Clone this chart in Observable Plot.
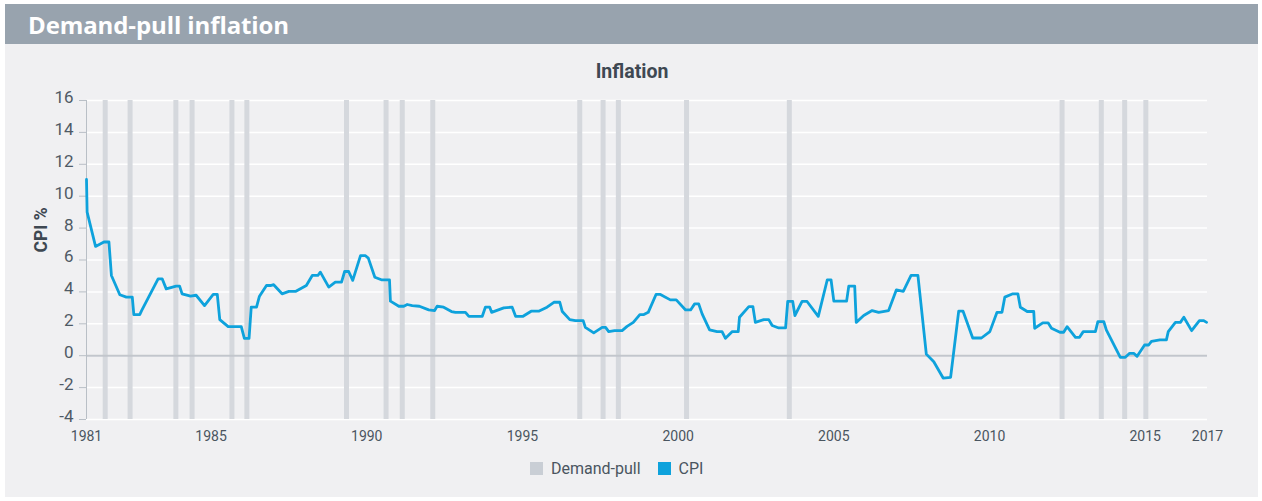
<!DOCTYPE html>
<html>
<head>
<meta charset="utf-8">
<script src="https://cdn.jsdelivr.net/npm/d3@7"></script>
<script src="https://cdn.jsdelivr.net/npm/@observablehq/plot@0.6"></script>
<style>
  html, body { margin: 0; padding: 0; background: #ffffff; }
  body { width: 1262px; height: 501px; position: relative; overflow: hidden; font-family: Roboto, "Open Sans", sans-serif; }
  #panel { position: absolute; left: 5px; top: 4px; width: 1253px; height: 493px; background: #f0f0f2; }
  #band { position: absolute; left: 5px; top: 4px; width: 1253px; height: 40px; background: #98a3ae; }
  #band span { position: absolute; left: 23px; top: 4px; font-family: "Open Sans", Roboto, sans-serif; font-weight: 700; font-size: 24px; color: #ffffff; letter-spacing: -0.1px; }
  #ctitle { position: absolute; left: 0; width: 1264px; top: 60px; text-align: center; font-weight: 700; font-size: 19.5px; color: #3e4852; }
  #ylab { position: absolute; left: 41px; top: 230px; transform: translate(-50%, -50%) rotate(-90deg); font-weight: 700; font-size: 17.5px; color: #3e4852; white-space: nowrap; }
  #chart { position: absolute; left: 0; top: 90px; }
  #legend { position: absolute; top: 459px; left: 530px; display: flex; align-items: center; font-size: 16px; color: #4a5560; }
  #legend .sw { width: 13px; height: 13px; display: inline-block; margin-right: 8px; }
  #legend .item { display: flex; align-items: center; margin-right: 17px; }
</style>
</head>
<body>
<div id="panel"></div>
<div id="band"><span>Demand-pull inflation</span></div>
<div id="ctitle">Inflation</div>
<div id="ylab">CPI %</div>
<div id="chart"></div>
<div id="legend">
  <div class="item"><span class="sw" style="background:#c9ced5"></span><span>Demand-pull</span></div>
  <div class="item"><span class="sw" style="background:#0ea2dc"></span><span>CPI</span></div>
</div>
<script>
// CPI series: vertices (decimal year, % value)
const cpiYear = [
  1981.00, 1981.02, 1981.29, 1981.56, 1981.72, 1981.80, 1982.07, 1982.28, 1982.47, 1982.52,
  1982.71, 1982.77, 1983.30, 1983.43, 1983.56, 1983.88, 1983.99, 1984.07, 1984.34, 1984.52,
  1984.79, 1985.07, 1985.20, 1985.28, 1985.55, 1985.97, 1986.07, 1986.22, 1986.29, 1986.46,
  1986.55, 1986.78, 1986.91, 1987.01, 1987.28, 1987.50, 1987.71, 1988.06, 1988.25, 1988.43,
  1988.51, 1988.78, 1988.99, 1989.19, 1989.29, 1989.42, 1989.55, 1989.80, 1989.96, 1990.05,
  1990.26, 1990.47, 1990.73, 1990.76, 1991.03, 1991.19, 1991.30, 1991.46, 1991.69, 1991.99,
  1992.18, 1992.26, 1992.47, 1992.72, 1992.85, 1993.17, 1993.28, 1993.71, 1993.81, 1993.95,
  1994.01, 1994.40, 1994.67, 1994.78, 1995.02, 1995.28, 1995.52, 1995.79, 1996.01, 1996.20,
  1996.28, 1996.52, 1996.70, 1996.95, 1997.02, 1997.29, 1997.56, 1997.67, 1997.77, 1997.96,
  1998.20, 1998.36, 1998.56, 1998.77, 1998.90, 1999.04, 1999.29, 1999.43, 1999.75, 1999.94,
  2000.24, 2000.40, 2000.53, 2000.66, 2000.77, 2001.01, 2001.25, 2001.41, 2001.52, 2001.74,
  2001.93, 2001.97, 2002.27, 2002.40, 2002.48, 2002.75, 2002.91, 2003.02, 2003.23, 2003.45,
  2003.52, 2003.68, 2003.75, 2003.98, 2004.14, 2004.50, 2004.79, 2004.91, 2005.00, 2005.41,
  2005.48, 2005.67, 2005.72, 2005.96, 2006.23, 2006.44, 2006.76, 2007.01, 2007.23, 2007.48,
  2007.70, 2007.97, 2008.21, 2008.51, 2008.75, 2009.01, 2009.15, 2009.46, 2009.74, 2010.01,
  2010.24, 2010.40, 2010.49, 2010.75, 2010.91, 2010.99, 2011.21, 2011.42, 2011.45, 2011.71,
  2011.88, 2011.99, 2012.26, 2012.38, 2012.49, 2012.76, 2012.89, 2013.01, 2013.40, 2013.48,
  2013.67, 2013.75, 2014.20, 2014.36, 2014.50, 2014.63, 2014.74, 2014.98, 2015.11, 2015.20,
  2015.47, 2015.68, 2015.74, 2015.97, 2016.13, 2016.24, 2016.49, 2016.74, 2016.88, 2016.97
];
const cpiValue = [
  11.05, 9.00, 6.85, 7.13, 7.13, 5.03, 3.82, 3.67, 3.67, 2.58,
  2.58, 2.83, 4.82, 4.82, 4.19, 4.36, 4.36, 3.88, 3.73, 3.79,
  3.14, 3.84, 3.84, 2.26, 1.82, 1.82, 1.09, 1.09, 3.04, 3.04,
  3.71, 4.40, 4.40, 4.45, 3.88, 4.03, 4.03, 4.40, 5.03, 5.03,
  5.24, 4.30, 4.61, 4.61, 5.28, 5.28, 4.72, 6.27, 6.27, 6.12,
  4.92, 4.76, 4.76, 3.42, 3.10, 3.10, 3.21, 3.14, 3.10, 2.87,
  2.83, 3.10, 3.04, 2.77, 2.72, 2.72, 2.47, 2.47, 3.04, 3.04,
  2.72, 3.00, 3.04, 2.47, 2.47, 2.79, 2.79, 3.04, 3.35, 3.35,
  2.77, 2.26, 2.20, 2.20, 1.78, 1.43, 1.78, 1.78, 1.51, 1.57,
  1.57, 1.84, 2.09, 2.58, 2.58, 2.72, 3.84, 3.84, 3.50, 3.50,
  2.87, 2.87, 3.25, 3.25, 2.62, 1.62, 1.51, 1.51, 1.09, 1.51,
  1.51, 2.41, 3.08, 3.08, 2.09, 2.26, 2.26, 1.89, 1.74, 1.74,
  3.40, 3.40, 2.52, 3.40, 3.40, 2.47, 4.76, 4.76, 3.42, 3.42,
  4.36, 4.36, 2.09, 2.52, 2.83, 2.72, 2.83, 4.13, 4.03, 5.03,
  5.03, 0.10, -0.38, -1.40, -1.36, 2.79, 2.79, 1.11, 1.11, 1.51,
  2.72, 2.72, 3.67, 3.88, 3.88, 3.04, 2.77, 2.77, 1.72, 2.06,
  2.06, 1.72, 1.47, 1.47, 1.82, 1.15, 1.15, 1.51, 1.51, 2.14,
  2.14, 1.62, -0.10, -0.10, 0.15, 0.15, -0.04, 0.67, 0.67, 0.90,
  0.99, 0.99, 1.51, 2.09, 2.09, 2.41, 1.57, 2.20, 2.20, 2.09
];
// Demand-pull periods (decimal year)
const demandPullYear = [
  1981.60, 1982.40, 1983.87, 1984.39, 1985.67, 1986.15, 1989.35, 1990.62, 1991.14, 1992.12,
  1996.84, 1997.59, 1998.08, 2000.27, 2003.57, 2012.33, 2013.59, 2014.34, 2015.02
];
const xTicks = [1981, 1985, 1990, 1995, 2000, 2005, 2010, 2015, 2017];
const yTicks = [-4, -2, 0, 2, 4, 6, 8, 10, 12, 14, 16];

const cpi = cpiYear.map((y, i) => ({year: y, value: cpiValue[i]}));

const chart = Plot.plot({
  width: 1262,
  height: 360,
  marginLeft: 86,
  marginRight: 55,
  marginTop: 10,
  marginBottom: 31,
  style: {background: "transparent", fontFamily: "Roboto, sans-serif", color: "#4a5560", overflow: "visible"},
  x: {domain: [1981, 2017]},
  y: {domain: [-4, 16]},
  marks: [
    Plot.gridY(yTicks, {stroke: "#ffffff", strokeOpacity: 1, strokeWidth: 1.5}),
    Plot.ruleX(demandPullYear, {x: d => d, y1: -4, y2: 16, stroke: "#d5d8dd", strokeWidth: 5}),
    Plot.ruleY([0], {stroke: "#c2c6cc", strokeWidth: 2}),
    Plot.ruleX([1981], {y1: -4, y2: 16, stroke: "#b9bfc6", strokeWidth: 1}),
    // tick marks only
    Plot.axisY(yTicks, {tickFormat: d => String(d), tickSize: 7, fill: "none", stroke: "#b9bfc6", label: null}),
    // tick labels only, nudged up as in the reference
    Plot.axisY(yTicks, {tickFormat: d => String(d), tickSize: 0, tickPadding: 13, dy: -3, fontSize: 17, fill: "#4f5a65", label: null}),
    Plot.axisX(xTicks, {tickFormat: d => String(d), tickSize: 0, tickPadding: 12, fontSize: 14, fill: "#4a5560", label: null}),
    Plot.line(cpi, {x: "year", y: "value", stroke: "#0ea2dc", strokeWidth: 2.8, strokeLinejoin: "round"})
  ]
});
document.getElementById("chart").appendChild(chart);
</script>
</body>
</html>
